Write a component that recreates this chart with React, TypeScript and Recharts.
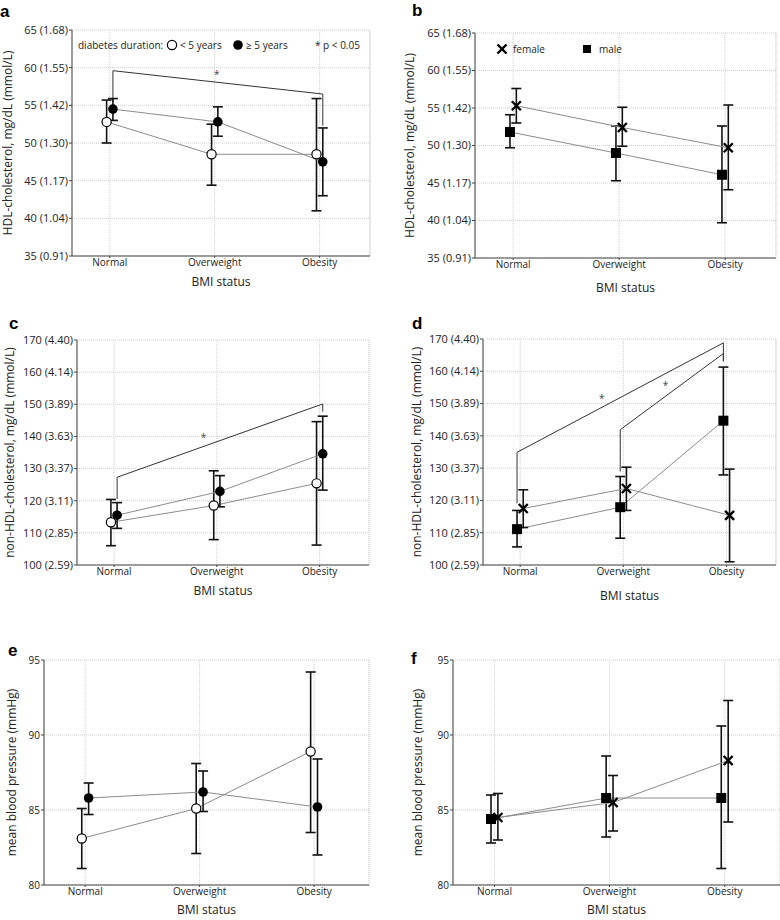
import React from 'react';
import {
  ComposedChart, Line, Scatter, XAxis, YAxis, CartesianGrid, ErrorBar, ReferenceLine, Label
} from 'recharts';

const FONT = "'Open Sans', 'DejaVu Sans', sans-serif";

const categories = ['Normal', 'Overweight', 'Obesity'];

// tick labels
const hdlTicks = [35, 40, 45, 50, 55, 60, 65];
const hdlTickMmol = ['0.91', '1.04', '1.17', '1.30', '1.42', '1.55', '1.68'];
const nonHdlTicks = [100, 110, 120, 130, 140, 150, 160, 170];
const nonHdlTickMmol = ['2.59', '2.85', '3.11', '3.37', '3.63', '3.89', '4.14', '4.40'];
const mbpTicks = [80, 85, 90, 95];

// a: HDL by diabetes duration
const hdlShortMean = [52.8, 48.5, 48.5];
const hdlShortLow = [50.0, 44.4, 41.0];
const hdlShortHigh = [55.7, 52.5, 55.9];
const hdlLongMean = [54.5, 52.8, 47.5];
const hdlLongLow = [53.0, 50.9, 43.0];
const hdlLongHigh = [55.9, 54.8, 52.0];

// b: HDL by sex
const hdlFemaleMean = [55.3, 52.4, 49.7];
const hdlFemaleLow = [53.0, 49.9, 44.1];
const hdlFemaleHigh = [57.6, 55.1, 55.4];
const hdlMaleMean = [51.8, 49.0, 46.1];
const hdlMaleLow = [49.7, 45.3, 39.7];
const hdlMaleHigh = [54.1, 52.6, 52.6];

// c: non-HDL by diabetes duration
const nonHdlShortMean = [113.3, 118.5, 125.4];
const nonHdlShortLow = [106.0, 107.9, 106.2];
const nonHdlShortHigh = [120.4, 129.3, 144.6];
const nonHdlLongMean = [115.5, 122.9, 134.6];
const nonHdlLongLow = [111.4, 118.1, 123.3];
const nonHdlLongHigh = [119.4, 127.8, 146.3];

// d: non-HDL by sex
const nonHdlFemaleMean = [117.5, 123.7, 115.4];
const nonHdlFemaleLow = [111.6, 116.9, 101.0];
const nonHdlFemaleHigh = [123.3, 130.3, 129.7];
const nonHdlMaleMean = [111.1, 117.9, 144.7];
const nonHdlMaleLow = [105.6, 108.3, 127.9];
const nonHdlMaleHigh = [116.9, 127.4, 161.3];

// e: mean blood pressure by diabetes duration
const mbpShortMean = [83.1, 85.1, 88.9];
const mbpShortLow = [81.1, 82.1, 83.5];
const mbpShortHigh = [85.1, 88.1, 94.2];
const mbpLongMean = [85.8, 86.2, 85.2];
const mbpLongLow = [84.7, 84.9, 82.0];
const mbpLongHigh = [86.8, 87.6, 88.4];

// f: mean blood pressure by sex
const mbpMaleMean = [84.4, 85.8, 85.8];
const mbpMaleLow = [82.8, 83.2, 81.1];
const mbpMaleHigh = [86.0, 88.6, 90.6];
const mbpFemaleMean = [84.5, 85.5, 88.3];
const mbpFemaleLow = [83.0, 83.6, 84.2];
const mbpFemaleHigh = [86.1, 87.3, 92.3];

// significance brackets (category index, value) and asterisks
const hdlDurationBracketCat = [1, 1, 3, 3];
const hdlDurationBracketVal = [55.5, 59.6, 56.5, 52.3];
const hdlDurationStar = { x: 2.02, y: 59.2 };
const nonHdlDurationBracketCat = [1, 1, 3, 3];
const nonHdlDurationBracketVal = [120.5, 127.3, 150.1, 147.7];
const nonHdlDurationStar = { x: 1.87, y: 139.9 };
const nonHdlSexBracket1Cat = [1, 1, 3, 3];
const nonHdlSexBracket1Val = [119.1, 134.9, 168.8, 163.1];
const nonHdlSexBracket2Cat = [2, 2, 3, 3];
const nonHdlSexBracket2Val = [129.0, 141.9, 165.5, 163.1];
const nonHdlSexStars = [{ x: 1.79, y: 151.7 }, { x: 2.41, y: 155.8 }];

const X_DOMAIN: [number, number] = [0.64, 3.48];
const SHIFT = 0.03;
const GRID = '#cfcfcf';

type Pt = { x: number; y: number; err?: number[] };
type Shape = 'open' | 'filled' | 'square' | 'cross';

const buildSeries = (means: number[], lows: number[], highs: number[], shift: number): Pt[] =>
  means.map((m, i) => ({ x: i + 1 + shift, y: m, err: [m - lows[i], highs[i] - m] }));

const buildBracket = (cats: number[], vals: number[], shift: number): Pt[] =>
  cats.map((c, i) => ({ x: c + shift, y: vals[i] }));

const marker = (shape: Shape) => (props: any) => {
  const { cx, cy, index } = props;
  const key = `m-${shape}-${index}`;
  if (cx == null || cy == null) return <g key={key} />;
  if (shape === 'open') return <circle key={key} cx={cx} cy={cy} r={4.6} fill="#fff" stroke="#000" strokeWidth={1.2} />;
  if (shape === 'filled') return <circle key={key} cx={cx} cy={cy} r={4.8} fill="#000" />;
  if (shape === 'square') return <rect key={key} x={cx - 5} y={cy - 5} width={10} height={10} fill="#000" />;
  return (
    <g key={key} stroke="#000" strokeWidth={2.4}>
      <line x1={cx - 4.5} y1={cy - 4.5} x2={cx + 4.5} y2={cy + 4.5} />
      <line x1={cx - 4.5} y1={cy + 4.5} x2={cx + 4.5} y2={cy - 4.5} />
    </g>
  );
};

const star = (props: any) => (
  <text x={props.cx} y={props.cy + 4} textAnchor="middle" fontSize={10} fill="#444" fontFamily={FONT}>*</text>
);

interface PanelProps {
  left: number; top: number; width: number; height: number;
  margin: { top: number; right: number; bottom: number; left: number };
  yWidth: number;
  yDomain: [number, number];
  yTicks: number[];
  yTickText: (v: number, i: number) => string;
  yTickSize: number;
  yLabel: string;
  yLabelOffset: number;
  xLabelOffset: number;
  first: Pt[]; firstShape: Shape;
  second: Pt[]; secondShape: Shape;
  brackets?: Pt[][];
  stars?: Pt[];
}

const Panel: React.FC<PanelProps> = (p) => (
  <div style={{ position: 'absolute', left: p.left, top: p.top, width: p.width, height: p.height }}>
    <ComposedChart width={p.width} height={p.height} margin={p.margin}>
      <CartesianGrid stroke={GRID} strokeDasharray="1 1" />
      <XAxis
        type="number"
        dataKey="x"
        domain={X_DOMAIN}
        ticks={[1, 2, 3]}
        allowDataOverflow
        tickFormatter={(v: number) => categories[Math.round(v) - 1] ?? ''}
        tick={{ fontSize: 10, fill: '#222', fontFamily: FONT }}
        tickSize={2}
        tickMargin={1}
        height={20}
        axisLine={{ stroke: '#444' }}
        tickLine={{ stroke: '#444' }}
      >
        <Label value="BMI status" position="bottom" offset={p.xLabelOffset}
          style={{ fontSize: 12, fill: '#222', fontFamily: FONT }} />
      </XAxis>
      <YAxis
        type="number"
        dataKey="y"
        domain={p.yDomain}
        ticks={p.yTicks}
        allowDataOverflow
        interval={0}
        width={p.yWidth}
        tickFormatter={(v: number) => p.yTickText(v, p.yTicks.indexOf(v))}
        tick={{ fontSize: p.yTickSize, fill: '#222', fontFamily: FONT }}
        tickSize={3}
        tickMargin={1}
        axisLine={{ stroke: '#444' }}
        tickLine={{ stroke: '#444' }}
      >
        <Label value={p.yLabel} angle={-90} position="insideLeft" offset={p.yLabelOffset}
          style={{ fontSize: 12, fill: '#222', fontFamily: FONT, textAnchor: 'middle' }} />
      </YAxis>
      <ReferenceLine x={X_DOMAIN[1]} stroke={GRID} strokeDasharray="1 1" />
      {(p.brackets ?? []).map((b, i) => (
        <Line key={`br-${i}`} data={b} dataKey="y" stroke="#333" strokeWidth={1}
          dot={false} activeDot={false} isAnimationActive={false} />
      ))}
      <Line data={p.first} dataKey="y" stroke="#8c8c8c" strokeWidth={1}
        dot={marker(p.firstShape)} activeDot={false} isAnimationActive={false}>
        <ErrorBar dataKey="err" direction="y" width={5} stroke="#111" strokeWidth={1.6} />
      </Line>
      <Line data={p.second} dataKey="y" stroke="#8c8c8c" strokeWidth={1}
        dot={marker(p.secondShape)} activeDot={false} isAnimationActive={false}>
        <ErrorBar dataKey="err" direction="y" width={5} stroke="#111" strokeWidth={1.6} />
      </Line>
      {p.stars && p.stars.length > 0 && (
        <Scatter data={p.stars} shape={star} isAnimationActive={false} />
      )}
    </ComposedChart>
  </div>
);

const hdlTick = (v: number, i: number) => `${v} (${hdlTickMmol[i]})`;
const nonHdlTick = (v: number, i: number) => `${v} (${nonHdlTickMmol[i]})`;
const plainTick = (v: number) => `${v}`;

const letterStyle = { fontSize: 17, fontWeight: 700, fontFamily: "'Liberation Sans', Arial, sans-serif", fill: '#000' };
const legendText = { fontSize: 10, fontFamily: FONT, fill: '#222' };

export default function App() {
  return (
    <div style={{ position: 'absolute', left: 0, top: 0, width: 780, height: 920, background: '#fff', overflow: 'hidden' }}>
      <Panel
        left={0} top={0} width={390} height={300}
        margin={{ top: 30, right: 20, bottom: 24, left: 2 }} yWidth={70}
        yDomain={[35, 65]} yTicks={hdlTicks} yTickText={hdlTick} yTickSize={11}
        yLabel="HDL-cholesterol, mg/dL (mmol/L)" yLabelOffset={6} xLabelOffset={1}
        first={buildSeries(hdlShortMean, hdlShortLow, hdlShortHigh, -SHIFT)} firstShape="open"
        second={buildSeries(hdlLongMean, hdlLongLow, hdlLongHigh, SHIFT)} secondShape="filled"
        brackets={[buildBracket(hdlDurationBracketCat, hdlDurationBracketVal, SHIFT)]}
        stars={[hdlDurationStar]}
      />
      <Panel
        left={390} top={0} width={390} height={300}
        margin={{ top: 33, right: 4, bottom: 22, left: 15 }} yWidth={70}
        yDomain={[35, 65]} yTicks={hdlTicks} yTickText={hdlTick} yTickSize={11}
        yLabel="HDL-cholesterol, mg/dL (mmol/L)" yLabelOffset={5} xLabelOffset={5}
        first={buildSeries(hdlMaleMean, hdlMaleLow, hdlMaleHigh, -SHIFT)} firstShape="square"
        second={buildSeries(hdlFemaleMean, hdlFemaleLow, hdlFemaleHigh, SHIFT)} secondShape="cross"
      />
      <Panel
        left={0} top={300} width={390} height={310}
        margin={{ top: 40, right: 21, bottom: 25, left: 5 }} yWidth={72}
        yDomain={[100, 170]} yTicks={nonHdlTicks} yTickText={nonHdlTick} yTickSize={11}
        yLabel="non-HDL-cholesterol, mg/dL (mmol/L)" yLabelOffset={5} xLabelOffset={1}
        first={buildSeries(nonHdlShortMean, nonHdlShortLow, nonHdlShortHigh, -SHIFT)} firstShape="open"
        second={buildSeries(nonHdlLongMean, nonHdlLongLow, nonHdlLongHigh, SHIFT)} secondShape="filled"
        brackets={[buildBracket(nonHdlDurationBracketCat, nonHdlDurationBracketVal, SHIFT)]}
        stars={[nonHdlDurationStar]}
      />
      <Panel
        left={390} top={300} width={390} height={310}
        margin={{ top: 39, right: 4, bottom: 25, left: 21 }} yWidth={72}
        yDomain={[100, 170]} yTicks={nonHdlTicks} yTickText={nonHdlTick} yTickSize={11}
        yLabel="non-HDL-cholesterol, mg/dL (mmol/L)" yLabelOffset={6} xLabelOffset={6}
        first={buildSeries(nonHdlMaleMean, nonHdlMaleLow, nonHdlMaleHigh, -SHIFT)} firstShape="square"
        second={buildSeries(nonHdlFemaleMean, nonHdlFemaleLow, nonHdlFemaleHigh, SHIFT)} secondShape="cross"
        brackets={[
          buildBracket(nonHdlSexBracket1Cat, nonHdlSexBracket1Val, -SHIFT),
          buildBracket(nonHdlSexBracket2Cat, nonHdlSexBracket2Val, -SHIFT),
        ]}
        stars={nonHdlSexStars}
      />
      <Panel
        left={0} top={610} width={390} height={310}
        margin={{ top: 50, right: 21, bottom: 15, left: 14 }} yWidth={30}
        yDomain={[80, 95]} yTicks={mbpTicks} yTickText={plainTick} yTickSize={10}
        yLabel="mean blood pressure (mmHg)" yLabelOffset={-2} xLabelOffset={0}
        first={buildSeries(mbpShortMean, mbpShortLow, mbpShortHigh, -SHIFT)} firstShape="open"
        second={buildSeries(mbpLongMean, mbpLongLow, mbpLongHigh, SHIFT)} secondShape="filled"
      />
      <Panel
        left={390} top={610} width={390} height={310}
        margin={{ top: 50, right: 0, bottom: 15, left: 33 }} yWidth={30}
        yDomain={[80, 95]} yTicks={mbpTicks} yTickText={plainTick} yTickSize={10}
        yLabel="mean blood pressure (mmHg)" yLabelOffset={-5} xLabelOffset={0}
        first={buildSeries(mbpMaleMean, mbpMaleLow, mbpMaleHigh, -SHIFT)} firstShape="square"
        second={buildSeries(mbpFemaleMean, mbpFemaleLow, mbpFemaleHigh, SHIFT)} secondShape="cross"
      />

      {/* panel letters and legends */}
      <svg width={780} height={920} style={{ position: 'absolute', left: 0, top: 0, pointerEvents: 'none' }}>
        <text x={0} y={17} style={letterStyle}>a</text>
        <text x={412} y={16} style={letterStyle}>b</text>
        <text x={9} y={329} style={letterStyle}>c</text>
        <text x={412} y={329} style={letterStyle}>d</text>
        <text x={8} y={656} style={letterStyle}>e</text>
        <text x={411} y={664} style={letterStyle}>f</text>

        <text x={78} y={48.5} style={legendText}>diabetes duration:</text>
        <circle cx={172} cy={45} r={4.6} fill="#fff" stroke="#000" strokeWidth={1.2} />
        <text x={180} y={48.5} style={legendText}>{'< 5 years'}</text>
        <circle cx={238} cy={45} r={4.8} fill="#000" />
        <text x={246} y={48.5} style={legendText}>{'≥ 5 years'}</text>
        <text x={315} y={48.5} style={legendText}>{'* p < 0.05'}</text>

        <g stroke="#000" strokeWidth={2.4}>
          <line x1={497.5} y1={44.5} x2={506.5} y2={53.5} />
          <line x1={497.5} y1={53.5} x2={506.5} y2={44.5} />
        </g>
        <text x={513} y={52.5} style={legendText}>female</text>
        <rect x={583} y={45} width={8} height={8} fill="#000" />
        <text x={599} y={52.5} style={legendText}>male</text>
      </svg>
    </div>
  );
}
